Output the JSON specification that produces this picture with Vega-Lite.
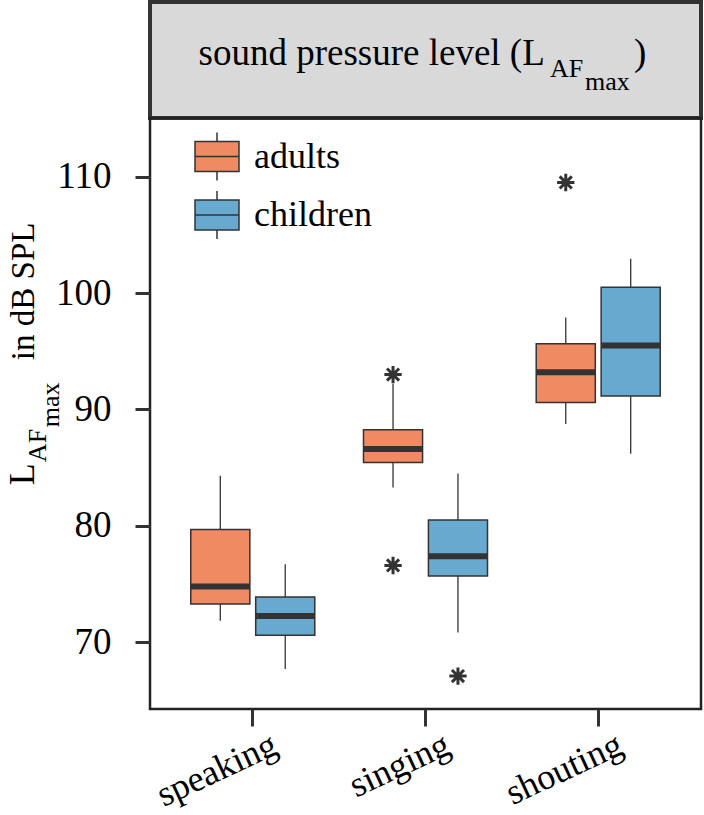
{
  "$schema": "https://vega.github.io/schema/vega-lite/v6.json",
  "padding": {"left": 3, "top": 0, "right": 2, "bottom": 2},
  "background": "white",
  "spacing": 0,
  "bounds": "flush",
  "config": {
    "font": "Liberation Serif",
    "text": {"font": "Liberation Serif"},
    "axis": {"labelFont": "Liberation Serif"},
    "legend": {"labelFont": "Liberation Serif"}
  },
  "datasets": {
    "boxes": [
      {"activity": "speaking", "group": "adults", "lower": 71.85, "q1": 73.3, "median": 74.8, "q3": 79.7, "upper": 84.3},
      {"activity": "speaking", "group": "children", "lower": 67.7, "q1": 70.6, "median": 72.25, "q3": 73.9, "upper": 76.7},
      {"activity": "singing", "group": "adults", "lower": 83.3, "q1": 85.45, "median": 86.6, "q3": 88.25, "upper": 92.2},
      {"activity": "singing", "group": "children", "lower": 70.85, "q1": 75.7, "median": 77.4, "q3": 80.5, "upper": 84.5},
      {"activity": "shouting", "group": "adults", "lower": 88.75, "q1": 90.6, "median": 93.2, "q3": 95.65, "upper": 97.9},
      {"activity": "shouting", "group": "children", "lower": 86.2, "q1": 91.15, "median": 95.5, "q3": 100.5, "upper": 102.95}
    ],
    "outliers": [
      {"activity": "singing", "group": "adults", "value": 93.0},
      {"activity": "singing", "group": "adults", "value": 76.6},
      {"activity": "singing", "group": "children", "value": 67.1},
      {"activity": "shouting", "group": "adults", "value": 109.5}
    ],
    "strip_main": [{"label": "sound pressure level (L"}],
    "strip_sub": [{"label": "AF"}],
    "strip_subsub": [{"label": "max"}],
    "strip_close": [{"label": ")"}],
    "ytitle_main": [{"label": "L", "pos": 83.5}],
    "ytitle_sub": [{"label": "AF", "pos": 83.5}],
    "ytitle_subsub": [{"label": "max", "pos": 83.5}],
    "ytitle_rest": [{"label": "in dB SPL", "pos": 83.5}]
  },
  "vconcat": [
    {
      "width": 551,
      "height": 116,
      "view": {"fill": "#d9d9d9", "stroke": "#333333", "strokeWidth": 4},
      "layer": [
        {"data": {"name": "strip_main"}, "mark": {"type": "text", "align": "left", "baseline": "alphabetic", "dx": -227, "dy": 4.5, "fontSize": 37, "color": "black"}, "encoding": {"text": {"field": "label"}}},
        {"data": {"name": "strip_sub"}, "mark": {"type": "text", "align": "left", "baseline": "alphabetic", "dx": 124.5, "dy": 16.5, "fontSize": 26, "color": "black"}, "encoding": {"text": {"field": "label"}}},
        {"data": {"name": "strip_subsub"}, "mark": {"type": "text", "align": "left", "baseline": "alphabetic", "dx": 159.5, "dy": 29.5, "fontSize": 26, "color": "black"}, "encoding": {"text": {"field": "label"}}},
        {"data": {"name": "strip_close"}, "mark": {"type": "text", "align": "left", "baseline": "alphabetic", "dx": 208.5, "dy": 4.5, "fontSize": 37, "color": "black"}, "encoding": {"text": {"field": "label"}}}
      ]
    },
    {
      "width": 551,
      "height": 591,
      "view": {"stroke": "#222222", "strokeWidth": 2.5},
      "encoding": {
        "x": {
          "field": "activity", "type": "nominal", "sort": ["speaking", "singing", "shouting"],
          "scale": {"type": "band", "paddingInner": 0, "paddingOuter": 0.095},
          "axis": {"title": null, "domain": false, "tickSize": 17, "tickWidth": 3, "tickColor": "#333333", "labelAngle": -25, "labelAlign": "right", "labelBaseline": "top", "labelPadding": 1, "labelOffset": 15, "labelFontSize": 36, "labelFont": "Liberation Serif", "labelColor": "black"}
        },
        "xOffset": {"field": "group", "type": "nominal", "sort": ["adults", "children"], "scale": {"paddingInner": 0.09, "paddingOuter": 0.375}}
      },
      "layer": [
        {
          "data": {"name": "boxes"},
          "mark": {"type": "rule", "color": "#333333", "strokeWidth": 1.3},
          "encoding": {
            "y": {"field": "lower", "type": "quantitative", "title": null,
              "scale": {"domain": [64.27, 115.04], "nice": false, "zero": false},
              "axis": {"title": null, "values": [70, 80, 90, 100, 110], "domain": false, "grid": false, "tickSize": 15, "tickWidth": 3, "tickColor": "#333333", "labelPadding": 24, "labelFontSize": 37, "labelFont": "Liberation Serif", "labelColor": "black"}},
            "y2": {"field": "upper"}
          }
        },
        {
          "data": {"name": "boxes"},
          "mark": {"type": "bar", "stroke": "#333333", "strokeWidth": 1.5, "opacity": 1},
          "encoding": {
            "y": {"field": "q1", "type": "quantitative", "title": null},
            "y2": {"field": "q3"},
            "fill": {
              "field": "group", "type": "nominal",
              "scale": {"domain": ["adults", "children"], "range": ["#EF8A62", "#67A9CF"]},
              "legend": {"title": null, "orient": "none", "legendX": 44, "legendY": 131.5, "padding": 0,
                "symbolType": "M-1,-0.68H1V0.68H-1ZM-1,0H1M0,-0.68V-1.09M0,0.68V1.09",
                "symbolSize": 1936, "symbolStrokeColor": "#333333", "symbolStrokeWidth": 1.5, "symbolOpacity": 1,
                "labelFontSize": 36, "labelFont": "Liberation Serif", "labelColor": "black", "labelOffset": 14, "rowPadding": 4.5, "labelBaseline": "middle"}
            }
          }
        },
        {
          "data": {"name": "boxes"},
          "mark": {"type": "tick", "color": "#333333", "thickness": 6, "size": 59, "opacity": 1},
          "encoding": {"y": {"field": "median", "type": "quantitative", "title": null}}
        },
        {
          "data": {"name": "outliers"},
          "mark": {"type": "point", "shape": "M-1,0H1M0,-1V1M-0.7,-0.7L0.7,0.7M-0.7,0.7L0.7,-0.7", "size": 300, "filled": false, "stroke": "#333333", "strokeWidth": 3, "opacity": 1},
          "encoding": {"y": {"field": "value", "type": "quantitative", "title": null}}
        },
        {
          "data": {"name": "ytitle_main"},
          "mark": {"type": "text", "angle": 270, "align": "left", "baseline": "alphabetic", "x": -116, "dx": 0, "dy": 0, "fontSize": 36, "color": "black"},
          "encoding": {"x": null, "xOffset": null, "y": {"field": "pos", "type": "quantitative", "title": null}, "text": {"field": "label"}}
        },
        {
          "data": {"name": "ytitle_sub"},
          "mark": {"type": "text", "angle": 270, "align": "left", "baseline": "alphabetic", "x": -116, "dx": 23, "dy": 12, "fontSize": 26, "color": "black"},
          "encoding": {"x": null, "xOffset": null, "y": {"field": "pos", "type": "quantitative", "title": null}, "text": {"field": "label"}}
        },
        {
          "data": {"name": "ytitle_subsub"},
          "mark": {"type": "text", "angle": 270, "align": "left", "baseline": "alphabetic", "x": -116, "dx": 58, "dy": 25, "fontSize": 26, "color": "black"},
          "encoding": {"x": null, "xOffset": null, "y": {"field": "pos", "type": "quantitative", "title": null}, "text": {"field": "label"}}
        },
        {
          "data": {"name": "ytitle_rest"},
          "mark": {"type": "text", "angle": 270, "align": "left", "baseline": "alphabetic", "x": -116, "dx": 125, "dy": 0, "fontSize": 33, "color": "black"},
          "encoding": {"x": null, "xOffset": null, "y": {"field": "pos", "type": "quantitative", "title": null}, "text": {"field": "label"}}
        }
      ]
    }
  ]
}
